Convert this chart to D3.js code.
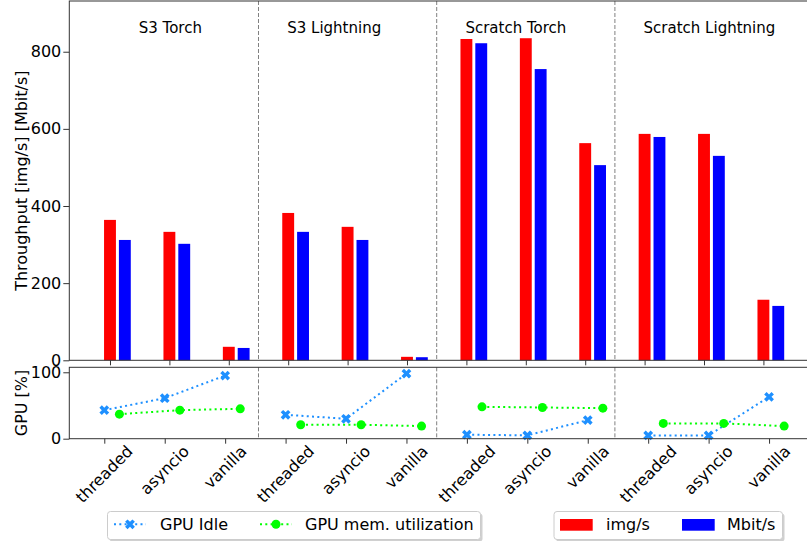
<!DOCTYPE html>
<html><head><meta charset="utf-8">
<script src="https://cdn.jsdelivr.net/npm/d3@7"></script>
<style>body{margin:0;background:#fff;} text{font-family:"DejaVu Sans",sans-serif;fill:#000;}</style>
</head><body><svg id="c" width="807" height="541"></svg>
<script>
const categories = ["threaded","asyncio","vanilla"];
const groups = ["S3 Torch","S3 Lightning","Scratch Torch","Scratch Lightning"];
const imgPerSec  = [364,333,35, 382,346,9, 833,835,563, 587,587,157];
const mbitPerSec = [312,302,32, 333,312,8, 822,755,506, 579,530,141];
const gpuIdle = [43,61,95, 36,30,98, 6,5,28, 5,5,63];
const gpuMem  = [37,43,45, 21,21,19, 48,47,46, 23,23,19];
const yTicksTop = [0,200,400,600,800];
const yTicksBottom = [0,100];

const svg = d3.select("#c");
const L = 69.3, R = 818;
const topT = 1, topB = 360.3, botT = 367.3, botB = 438.7;
const xTop = d3.scaleLinear().domain([-0.685, 11.919]).range([L, R]);
const xBot = d3.scaleLinear().domain([-0.579, 11.81]).range([L, R]);
const yTop = d3.scaleLinear().domain([0, 931.5]).range([topB, topT]);
const yBot = d3.scaleLinear().domain([0, 107.5]).range([botB, botT]);
const idx = d3.range(groups.length * categories.length);
const barW = 0.2, off = 0.25;

// bars
const gBars = svg.append("g");
gBars.selectAll(".r").data(idx).join("rect")
  .attr("x", i => xTop(i - barW/2)).attr("width", xTop(barW) - xTop(0))
  .attr("y", i => yTop(imgPerSec[i])).attr("height", i => yTop(0) - yTop(imgPerSec[i]))
  .attr("fill", "#ff0000");
gBars.selectAll(".b").data(idx).join("rect")
  .attr("x", i => xTop(i + off - barW/2)).attr("width", xTop(barW) - xTop(0))
  .attr("y", i => yTop(mbitPerSec[i])).attr("height", i => yTop(0) - yTop(mbitPerSec[i]))
  .attr("fill", "#0000ff");

// separators
[2.5, 5.5, 8.5].forEach(s => {
  const x = xTop(s);
  [[topT, topB], [botT, botB]].forEach(([a, b]) =>
    svg.append("line").attr("x1", x).attr("x2", x).attr("y1", a).attr("y2", b)
      .attr("stroke", "#808080").attr("stroke-width", 1).attr("stroke-dasharray", "4,2"));
});

// group titles
groups.forEach((g, k) => {
  svg.append("text").attr("x", xTop(k === 0 ? 0.5 : k * 3) - 1).attr("y", 33)
    .attr("font-size", 15).text(g);
});

// lines bottom
const gLines = svg.append("g");
const lineIdle = d3.line().x(i => xBot(i)).y(i => yBot(gpuIdle[i]));
const lineMem = d3.line().x(i => xBot(i + off)).y(i => yBot(gpuMem[i]));
groups.forEach((g, k) => {
  const ii = d3.range(k*3, k*3+3);
  gLines.append("path").attr("d", lineIdle(ii)).attr("fill", "none")
    .attr("stroke", "#1e90ff").attr("stroke-width", 2).attr("stroke-dasharray", "2,3.3");
  gLines.append("path").attr("d", lineMem(ii)).attr("fill", "none")
    .attr("stroke", "#00ff00").attr("stroke-width", 2).attr("stroke-dasharray", "2,3.3");
});
const xSym = d3.symbol(d3.symbolCross, 60);
gLines.selectAll(".xi").data(idx).join("path")
  .attr("d", xSym).attr("fill", "#1e90ff")
  .attr("transform", i => `translate(${xBot(i)},${yBot(gpuIdle[i])}) rotate(45)`);
gLines.selectAll(".ci").data(idx).join("circle")
  .attr("cx", i => xBot(i + off)).attr("cy", i => yBot(gpuMem[i])).attr("r", 4.5)
  .attr("fill", "#00ff00");

// axes
const spine = "#333";
function frame(t, b) {
  svg.append("rect").attr("x", L).attr("y", t).attr("width", R - L).attr("height", b - t)
    .attr("fill", "none").attr("stroke", spine).attr("stroke-width", 1);
}
frame(topT, topB); frame(botT, botB);

const ayTop = svg.append("g").attr("transform", `translate(${L},0)`)
  .call(d3.axisLeft(yTop).tickValues(yTicksTop).tickSize(6).tickPadding(2).tickFormat(d3.format("d")));
const ayBot = svg.append("g").attr("transform", `translate(${L},0)`)
  .call(d3.axisLeft(yBot).tickValues(yTicksBottom).tickSize(6).tickPadding(2).tickFormat(d3.format("d")));
const axTop = svg.append("g").attr("transform", `translate(0,${topB})`)
  .call(d3.axisBottom(xTop).tickValues(idx).tickSize(5).tickFormat(""));
const axBot = svg.append("g").attr("transform", `translate(0,${botB})`)
  .call(d3.axisBottom(xBot).tickValues(idx).tickSize(5).tickFormat(""));
[ayTop, ayBot, axTop, axBot].forEach(a => {
  a.select(".domain").remove();
  a.selectAll("line").attr("stroke", spine);
  a.selectAll("text").attr("font-size", 16).attr("font-family", "DejaVu Sans").attr("fill", "#000");
});

// rotated x tick labels
const fs = 16;
idx.forEach(i => {
  const t = svg.append("text").attr("font-size", fs).attr("text-anchor", "middle")
    .attr("dominant-baseline", "central").text(categories[i % 3]);
  const w = t.node().getComputedTextLength();
  const h = fs * 0.8;
  const half = (w + h) / (2 * Math.SQRT2);
  t.attr("transform", `translate(${xBot(i)},${444 + half}) rotate(-45)`);
});

// y labels
svg.append("text").attr("transform", `translate(26.5,${(topT+topB)/2}) rotate(-90)`)
  .attr("text-anchor", "middle").attr("font-size", 16).text("Throughput [img/s] [Mbit/s]");
svg.append("text").attr("transform", `translate(26.5,${(botT+botB)/2}) rotate(-90)`)
  .attr("text-anchor", "middle").attr("font-size", 16).text("GPU [%]");

// legends
function legendBox(x, y, w, h) {
  svg.append("rect").attr("x", x + 2).attr("y", y + 2).attr("width", w).attr("height", h)
    .attr("rx", 3).attr("fill", "#b0b0b0").attr("opacity", 0.6);
  svg.append("rect").attr("x", x).attr("y", y).attr("width", w).attr("height", h)
    .attr("rx", 3).attr("fill", "#fff").attr("stroke", "#cccccc").attr("stroke-width", 1);
}
const ly = 524.3;
legendBox(107.5, 511.5, 373, 28);
const leg1 = [
  {name: "GPU Idle", color: "#1e90ff", marker: "x", x0: 114, tx: 160},
  {name: "GPU mem. utilization", color: "#00ff00", marker: "o", x0: 260, tx: 305}
];
leg1.forEach(d => {
  svg.append("line").attr("x1", d.x0).attr("x2", d.x0 + 32).attr("y1", ly).attr("y2", ly)
    .attr("stroke", d.color).attr("stroke-width", 2).attr("stroke-dasharray", "2,3.3");
  if (d.marker === "x") svg.append("path").attr("d", xSym).attr("fill", d.color)
    .attr("transform", `translate(${d.x0 + 16},${ly}) rotate(45)`);
  else svg.append("circle").attr("cx", d.x0 + 16).attr("cy", ly).attr("r", 4.5).attr("fill", d.color);
  svg.append("text").attr("x", d.tx).attr("y", ly).attr("dominant-baseline", "central")
    .attr("font-size", 16).text(d.name);
});
legendBox(554, 511.5, 228.5, 28);
const leg2 = [
  {name: "img/s", color: "#ff0000", x0: 560, tx: 606},
  {name: "Mbit/s", color: "#0000ff", x0: 682, tx: 727}
];
leg2.forEach(d => {
  svg.append("rect").attr("x", d.x0).attr("y", 519).attr("width", 32.7).attr("height", 11.7).attr("fill", d.color);
  svg.append("text").attr("x", d.tx).attr("y", ly).attr("dominant-baseline", "central")
    .attr("font-size", 16).text(d.name);
});
</script></body></html>
